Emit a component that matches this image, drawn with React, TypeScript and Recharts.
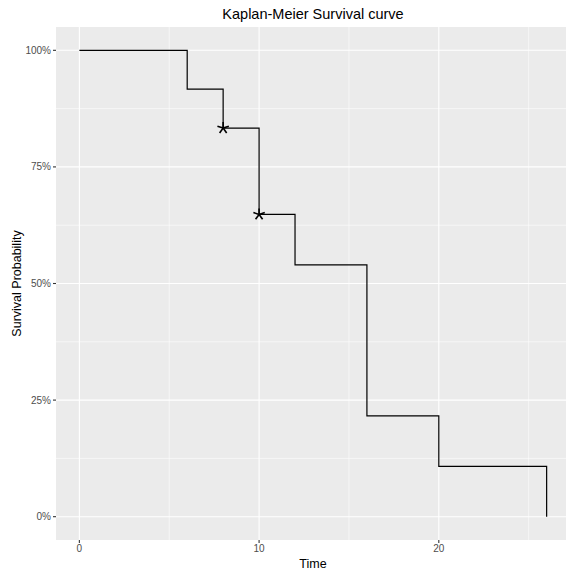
import React from 'react';
import { ComposedChart, Line, Scatter, XAxis, YAxis, CartesianGrid } from 'recharts';

const times = [0, 6, 8, 10, 12, 16, 20, 26];
const survival = [1, 0.9167, 0.8333, 0.6481, 0.5401, 0.216, 0.108, 0];
const censorTimes = [8, 10];
const censorSurvival = [0.8333, 0.6481];
const xTicks = [0, 10, 20];
const xMinorTicks = [5, 15, 25];
const yTicks = [0, 0.25, 0.5, 0.75, 1];
const yMinorTicks = [0.125, 0.375, 0.625, 0.875];

const curve = times.map((t, i) => ({ t, s: survival[i] }));
const censored = censorTimes.map((t, i) => ({ t, s: censorSurvival[i] }));

const FONT = '"Liberation Sans", Arial, Helvetica, sans-serif';

const Asterisk = (props: any) => {
  const { cx, cy } = props;
  const r = 6;
  const angles = [-90, -18, 54, 126, 198];
  return (
    <g>
      {angles.map((a) => {
        const rad = (a * Math.PI) / 180;
        return (
          <line
            key={a}
            x1={cx}
            y1={cy}
            x2={cx + r * Math.cos(rad)}
            y2={cy + r * Math.sin(rad)}
            stroke="#000"
            strokeWidth={1.6}
            strokeLinecap="butt"
          />
        );
      })}
    </g>
  );
};

const pct = (v: number) => `${Math.round(v * 100)}%`;

const YLabel = () => (
  <text
    x={21}
    y={283.5}
    transform="rotate(-90 21 283.5)"
    textAnchor="middle"
    fontSize={12.5}
    fill="#000"
    fontFamily={FONT}
  >
    Survival Probability
  </text>
);

export default function App() {
  return (
    <div
      style={{
        position: 'absolute',
        left: 0,
        top: 0,
        width: 566,
        height: 571,
        overflow: 'hidden',
        background: '#fff',
        fontFamily: FONT,
      }}
    >
      <ComposedChart width={572} height={571} margin={{ top: 27, right: 2, bottom: 1, left: 0 }}>
        <CartesianGrid
          fill="#EBEBEB"
          stroke="#fff"
          strokeWidth={0.55}
          horizontalValues={yMinorTicks}
          verticalValues={xMinorTicks}
        />
        <CartesianGrid stroke="#fff" strokeWidth={1.1} horizontalValues={yTicks} verticalValues={xTicks} />
        <XAxis
          dataKey="t"
          type="number"
          domain={[-1.3, 27.3]}
          ticks={xTicks}
          allowDataOverflow
          axisLine={false}
          tickLine={{ stroke: '#333', strokeWidth: 1.1 }}
          tickSize={3}
          tickMargin={2}
          tick={{ fill: '#4D4D4D', fontSize: 10 }}
          height={30}
          label={{ value: 'Time', position: 'insideBottom', offset: 2, fill: '#000', fontSize: 12.5 }}
        />
        <YAxis
          type="number"
          domain={[-0.05, 1.05]}
          ticks={yTicks}
          allowDataOverflow
          width={56}
          axisLine={false}
          tickLine={{ stroke: '#333', strokeWidth: 1.1 }}
          tickSize={3}
          tickMargin={2}
          tick={{ fill: '#4D4D4D', fontSize: 10 }}
          tickFormatter={pct}
          label={{ value: 'Survival Probability', content: () => <YLabel /> }}
        />
        <Line
          data={curve}
          dataKey="s"
          type="stepAfter"
          stroke="#000"
          strokeWidth={1.2}
          dot={false}
          activeDot={false}
          isAnimationActive={false}
        />
        <Scatter
          data={censored}
          dataKey="s"
          shape={(p: any) => <Asterisk {...p} />}
          isAnimationActive={false}
        />
      </ComposedChart>
      <svg style={{ position: 'absolute', left: 0, top: 0 }} width={566} height={30}>
        <text x={313} y={18.5} textAnchor="middle" fontSize={14.5} fill="#000" fontFamily={FONT}>
          Kaplan-Meier Survival curve
        </text>
      </svg>
    </div>
  );
}
